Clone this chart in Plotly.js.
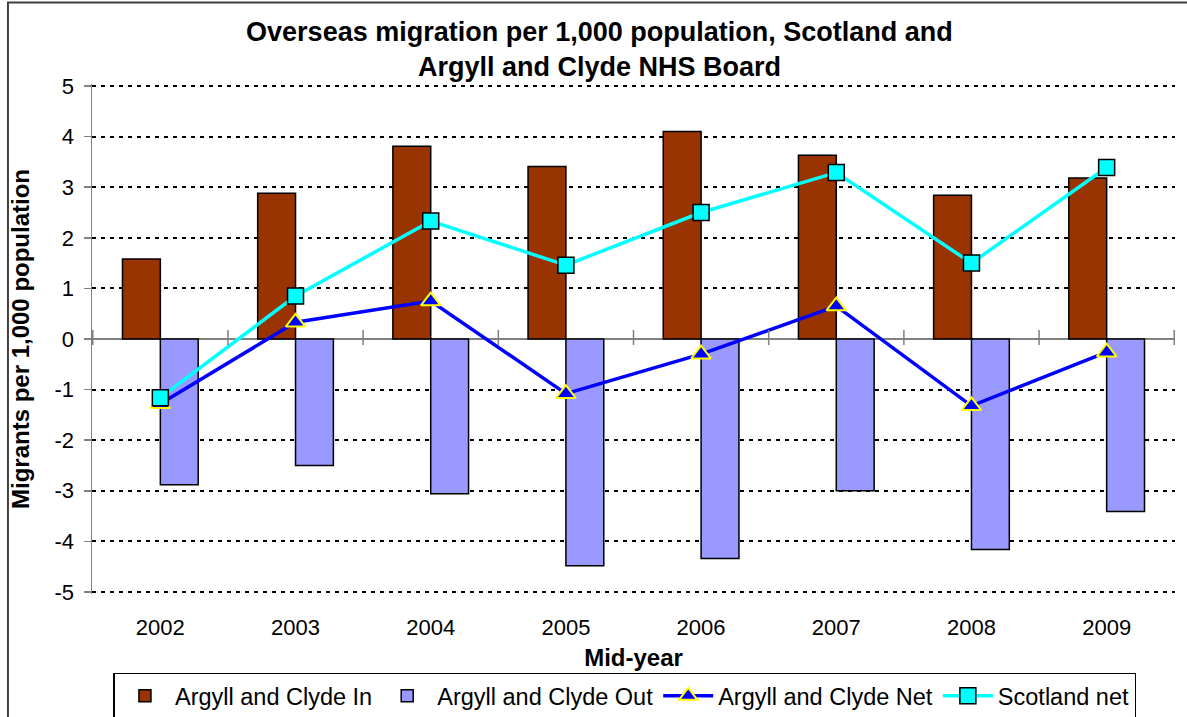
<!DOCTYPE html>
<html>
<head>
<meta charset="utf-8">
<script src="https://cdn.plot.ly/plotly-3.0.1.min.js"></script>
<style>
    html, body { margin: 0; padding: 0; background: #fff; }
    #chart { width: 1187px; height: 717px; }
</style>
</head>
<body>
<div id="chart"></div>
<script>
// Mid-year categories
const Years = ['2002', '2003', '2004', '2005', '2006', '2007', '2008', '2009'];

// Migrants per 1,000 population
const ArgyllIn = [1.58, 2.88, 3.81, 3.41, 4.10, 3.63, 2.84, 3.18];
const ArgyllOut = [-2.88, -2.50, -3.06, -4.48, -4.34, -3.00, -4.16, -3.41];
const ArgyllNet = [-1.28, 0.33, 0.75, -1.08, -0.30, 0.65, -1.32, -0.26];
const ScotlandNet = [-1.16, 0.85, 2.33, 1.46, 2.50, 3.29, 1.50, 3.39];

// y tick values and labels (plain hyphen as minus, like the original)
const YTicks = [-5, -4, -3, -2, -1, 0, 1, 2, 3, 4, 5];
const YTickLabels = ['-5', '-4', '-3', '-2', '-1', '0', '1', '2', '3', '4', '5'];

const PlotlyConfig = {
    displayModeBar: false,
    staticPlot: true
};

function plotChart() {
    var inTrace = {
        x: Years,
        y: ArgyllIn,
        name: 'Argyll and Clyde In',
        type: 'bar',
        marker: { color: '#993300', line: { color: '#000000', width: 1.5 } }
    };

    var outTrace = {
        x: Years,
        y: ArgyllOut,
        name: 'Argyll and Clyde Out',
        type: 'bar',
        marker: { color: '#9999FF', line: { color: '#000000', width: 1.5 } }
    };

    var netTrace = {
        x: Years,
        y: ArgyllNet,
        name: 'Argyll and Clyde Net',
        type: 'scatter',
        mode: 'lines+markers',
        line: { color: '#0000FF', width: 3.5 },
        marker: { symbol: 'triangle-up', size: 17, color: '#0000FF', line: { color: '#FFFF00', width: 2 } }
    };

    var scotTrace = {
        x: Years,
        y: ScotlandNet,
        name: 'Scotland net',
        type: 'scatter',
        mode: 'lines+markers',
        line: { color: '#00FFFF', width: 3.5 },
        marker: { symbol: 'square', size: 16, color: '#00FFFF', line: { color: '#000000', width: 1.5 } }
    };

    // small tick marks on the zero line between the categories
    var shapes = [];
    for (let i = 0; i <= Years.length; i++) {
        shapes.push({
            type: 'line', xref: 'x', yref: 'y',
            x0: i - 0.5, x1: i - 0.5, y0: -0.12, y1: 0.18,
            line: { color: '#808080', width: 1.5 }
        });
    }
    // outer chart frame
    shapes.push({
        type: 'rect', xref: 'paper', yref: 'paper',
        x0: -0.0776, x1: 1.05, y0: -0.3, y1: 1.16,
        line: { color: '#404040', width: 2 }
    });

    var layout = {
        width: 1187,
        height: 717,
        margin: { l: 92, r: 12, t: 84, b: 123 },
        paper_bgcolor: '#ffffff',
        plot_bgcolor: '#ffffff',
        font: { family: 'Arial, "Liberation Sans", sans-serif', color: '#000000', size: 22 },
        title: {
            text: '<b>Overseas migration per 1,000 population, Scotland and<br>Argyll and Clyde NHS Board</b>',
            font: { size: 27 },
            x: 0.505, xanchor: 'center',
            y: 0.943, yanchor: 'middle', yref: 'container'
        },
        barmode: 'group',
        bargap: 0.44,
        bargroupgap: 0,
        showlegend: true,
        legend: {
            orientation: 'h',
            x: 0.5265, xanchor: 'center', xref: 'container',
            y: 0.062, yanchor: 'top', yref: 'container',
            bordercolor: '#000000', borderwidth: 1.5,
            bgcolor: '#ffffff',
            font: { size: 23.5 },
            itemwidth: 50,
            traceorder: 'normal'
        },
        xaxis: {
            type: 'category',
            automargin: false,
            title: { text: '<b>Mid-year</b>', font: { size: 24 }, standoff: 10 },
            showgrid: false,
            showline: false,
            zeroline: false,
            ticks: '',
            ticklabelstandoff: 18,
            fixedrange: true
        },
        yaxis: {
            range: [-5.04, 5.04],
            automargin: false,
            tickvals: YTicks,
            ticktext: YTickLabels,
            ticklabelstandoff: 5,
            title: { text: '<b>Migrants per 1,000 population</b>', font: { size: 24 }, standoff: 18 },
            showline: true, linecolor: '#808080', linewidth: 1.5,
            ticks: 'outside', ticklen: 7, tickcolor: '#808080', tickwidth: 1.5,
            showgrid: true, gridcolor: '#000000', gridwidth: 2, griddash: '4px,5px',
            zeroline: true, zerolinecolor: '#808080', zerolinewidth: 1.5,
            fixedrange: true
        },
        shapes: shapes
    };

    Plotly.newPlot('chart', [inTrace, outTrace, netTrace, scotTrace], layout, PlotlyConfig);
}

plotChart();
</script>
</body>
</html>
